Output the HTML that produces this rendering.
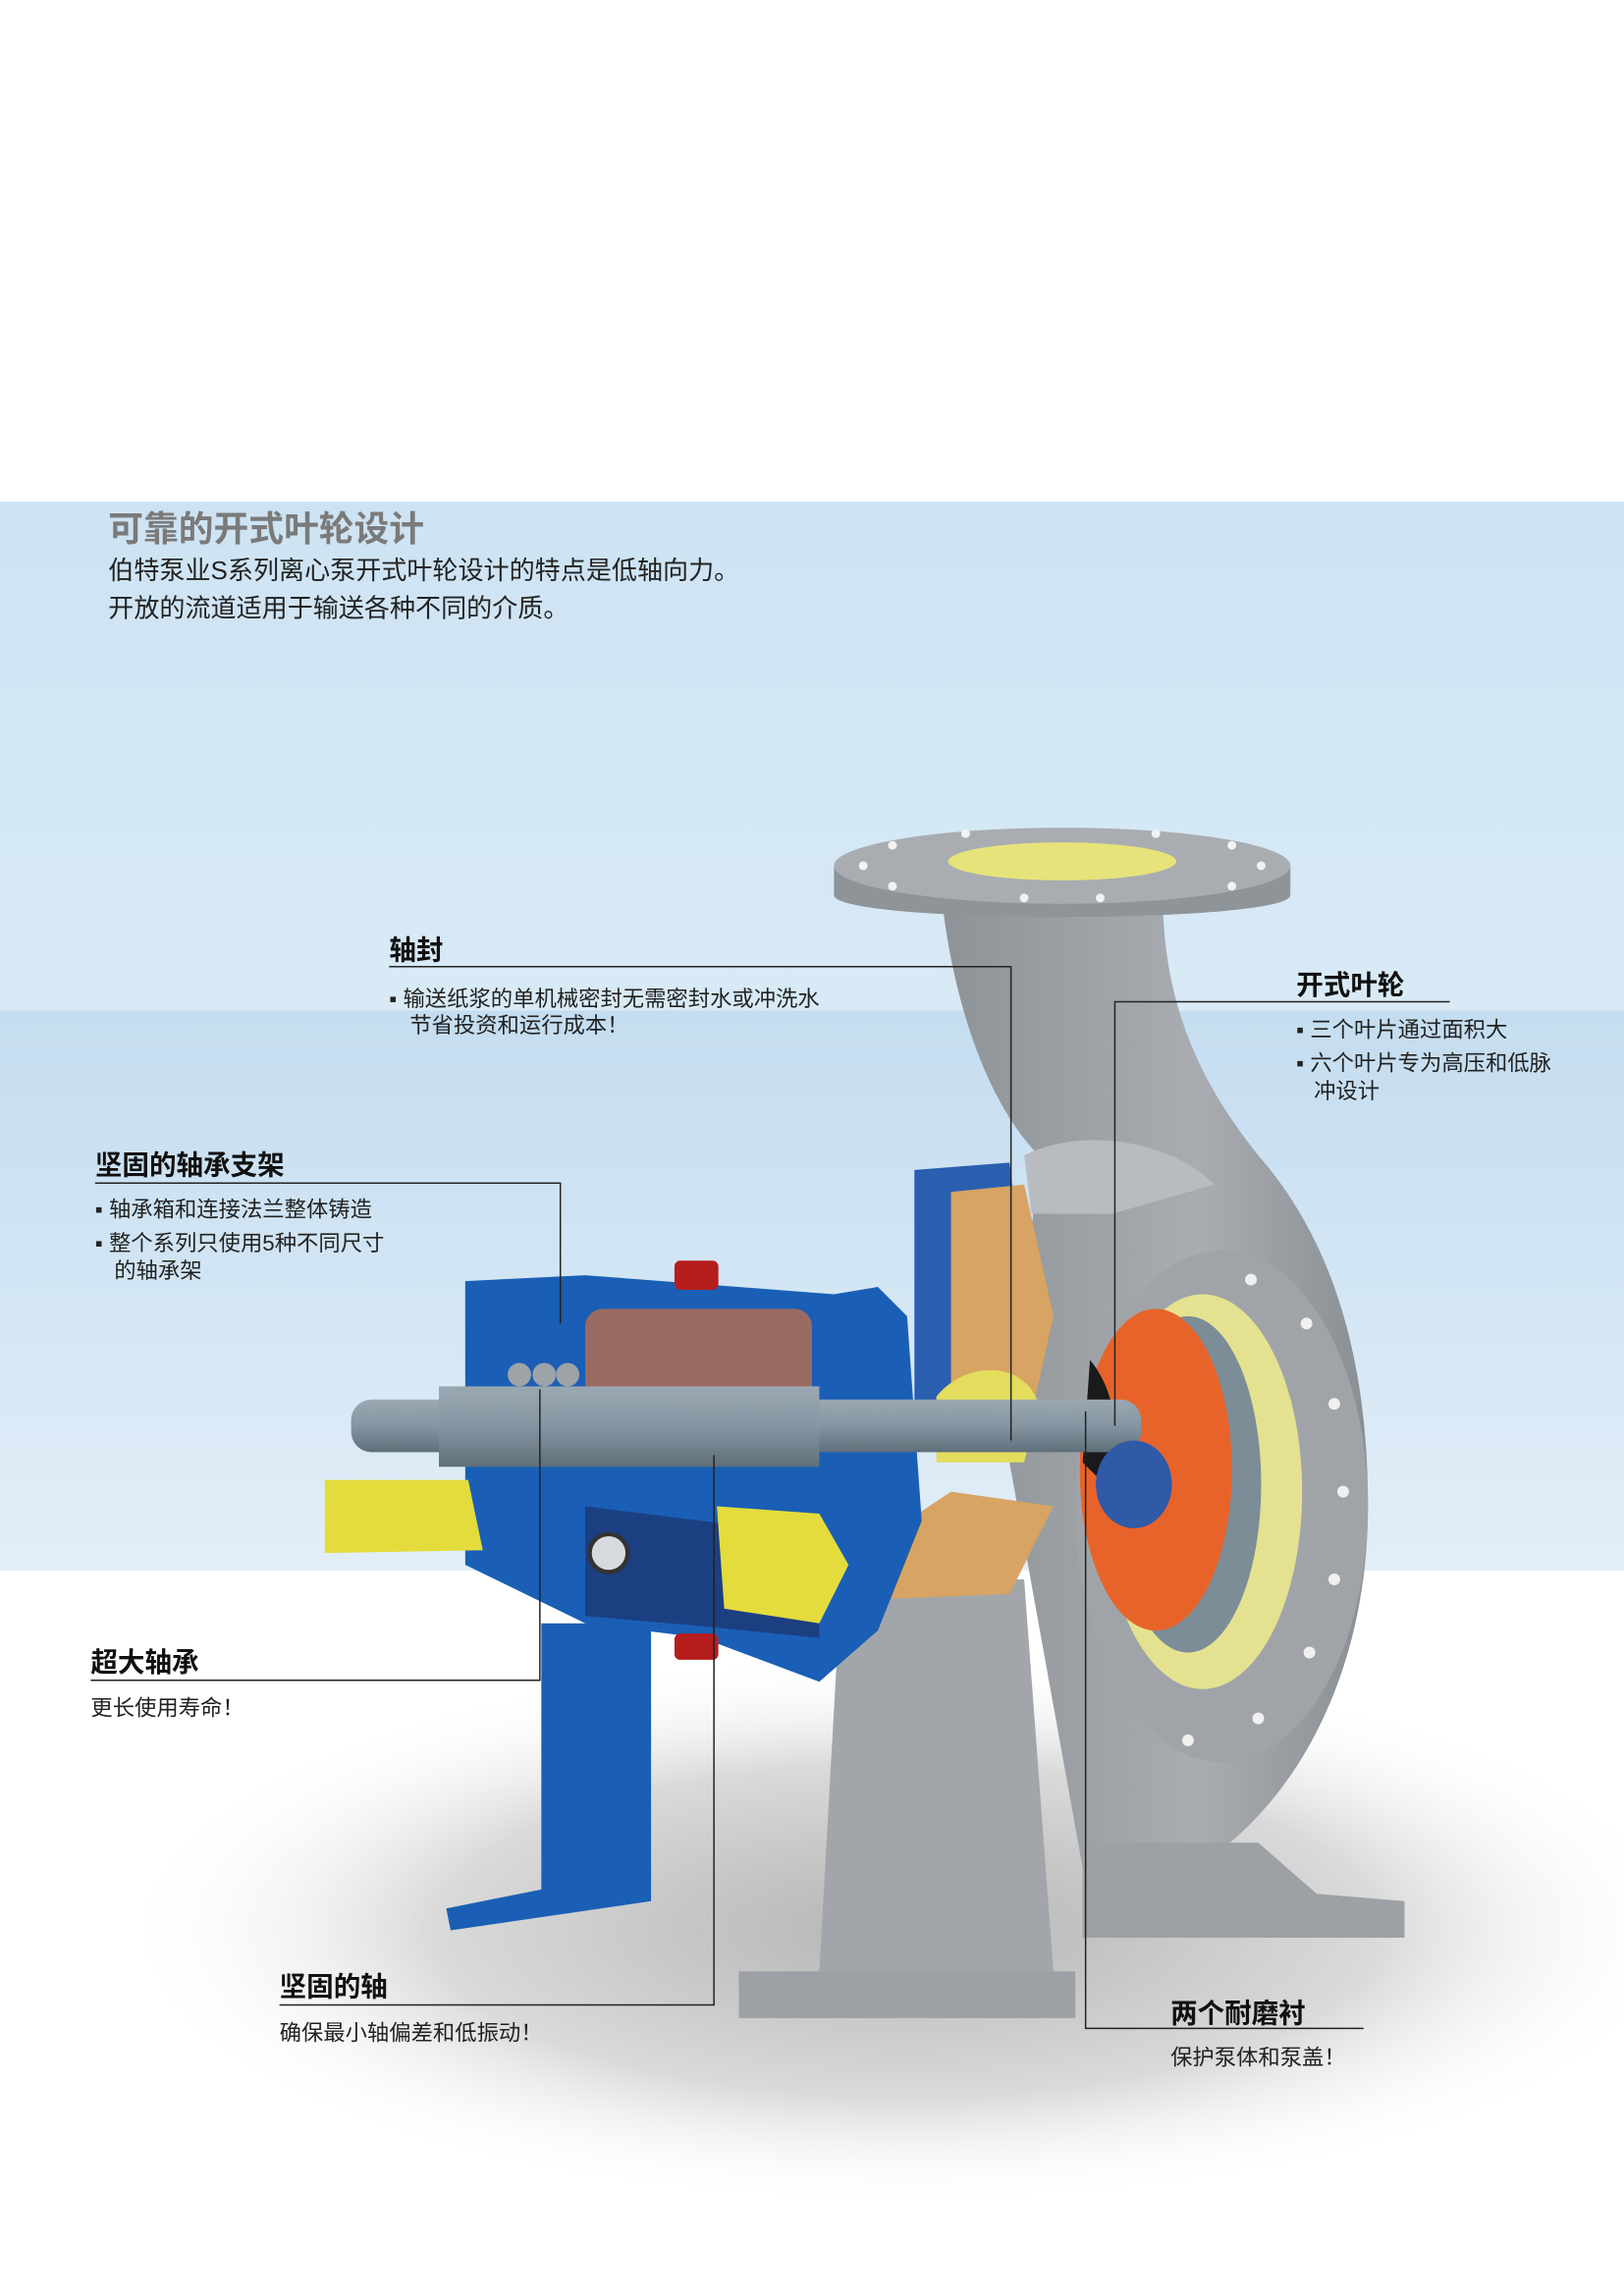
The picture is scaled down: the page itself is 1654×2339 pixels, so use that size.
<!DOCTYPE html>
<html><head><meta charset="utf-8"><style>
html,body{margin:0;padding:0;background:#fff}
svg{display:block}
text{font-family:"Liberation Sans","Noto Sans CJK SC",sans-serif}
.h{font-weight:bold;font-size:18.5px;fill:#111}
.t{font-size:15px;fill:#222}
</style></head><body>
<svg width="1654" height="2339" viewBox="0 0 1110 1570" preserveAspectRatio="none" xmlns="http://www.w3.org/2000/svg">
<defs>
<linearGradient id="bg1" x1="0" y1="0" x2="0" y2="1"><stop offset="0" stop-color="#cde3f3"/><stop offset="1" stop-color="#d9eaf6"/></linearGradient>
<linearGradient id="bg2" x1="0" y1="0" x2="0" y2="1"><stop offset="0" stop-color="#c4ddf0"/><stop offset="1" stop-color="#e2eef8"/></linearGradient>
<radialGradient id="sh" cx="0.5" cy="0.5" r="0.5"><stop offset="0" stop-color="#b4b4b4"/><stop offset="0.6" stop-color="#dadada"/><stop offset="1" stop-color="#ffffff" stop-opacity="0"/></radialGradient>
<linearGradient id="sf" x1="0" y1="0" x2="0" y2="1"><stop offset="0" stop-color="#9aa8b2"/><stop offset="0.5" stop-color="#8596a2"/><stop offset="1" stop-color="#5f6f7a"/></linearGradient>
<linearGradient id="vg" x1="0" y1="0" x2="1" y2="0"><stop offset="0" stop-color="#8e9397"/><stop offset="0.6" stop-color="#a9adb1"/><stop offset="1" stop-color="#8a8f93"/></linearGradient>
</defs>
<rect x="0" y="343" width="1110" height="348" fill="url(#bg1)"/>
<rect x="0" y="691" width="1110" height="383" fill="url(#bg2)"/>
<ellipse cx="620" cy="1320" rx="540" ry="190" fill="url(#sh)"/>

<!-- pump casing volute -->
<path d="M645,625 C655,700 680,760 710,790 L690,1000 L745,1305 C860,1285 935,1170 935,1030 C935,900 895,830 860,790 C820,740 798,690 795,625 Z" fill="url(#vg)"/>
<path d="M700,790 C740,770 800,780 830,810 L760,830 L705,830Z" fill="#b8bcc0"/>
<!-- top flange -->
<path d="M570,592 L570,612 C570,632 882,632 882,612 L882,592 Z" fill="#8f9498"/>
<ellipse cx="726" cy="592" rx="156" ry="26" fill="#a9adb1"/>
<ellipse cx="726" cy="589" rx="78" ry="13" fill="#e6e37a"/>
<g fill="#f2f2f2"><circle cx="590" cy="592" r="3"/><circle cx="862" cy="592" r="3"/><circle cx="610" cy="578" r="3"/><circle cx="842" cy="578" r="3"/><circle cx="610" cy="606" r="3"/><circle cx="842" cy="606" r="3"/><circle cx="660" cy="570" r="3"/><circle cx="790" cy="570" r="3"/><circle cx="700" cy="614" r="3"/><circle cx="752" cy="614" r="3"/></g>
<!-- pedestals -->
<path d="M575,1080 L700,1080 L720,1348 L560,1348 Z" fill="#a2a6aa"/>
<rect x="505" y="1348" width="230" height="32" fill="#9da1a5"/>
<path d="M740,1260 L860,1260 L900,1295 L960,1300 L960,1325 L740,1325Z" fill="#9da1a5"/>
<!-- volute front flange -->
<ellipse cx="835" cy="1030" rx="100" ry="175" fill="#a0a4a8"/>
<ellipse cx="822" cy="1020" rx="68" ry="135" fill="#e4e290"/>
<ellipse cx="812" cy="1015" rx="50" ry="115" fill="#7c8d97"/>
<ellipse cx="790" cy="1005" rx="52" ry="110" fill="#e8632a"/>
<path d="M745,930 C770,960 760,1000 770,1030 L740,1000Z" fill="#1a1a1a"/>
<g fill="#f0f0f0"><circle cx="855" cy="875" r="4"/><circle cx="893" cy="905" r="4"/><circle cx="912" cy="960" r="4"/><circle cx="918" cy="1020" r="4"/><circle cx="912" cy="1080" r="4"/><circle cx="895" cy="1130" r="4"/><circle cx="860" cy="1175" r="4"/><circle cx="812" cy="1190" r="4"/></g>
<!-- cover -->
<path d="M625,800 L690,795 L700,880 L660,980 L625,980 Z" fill="#2a5fb0"/>
<path d="M650,815 L700,810 L720,900 L700,990 L650,985Z" fill="#d7a463"/>
<path d="M650,1020 L720,1030 L690,1090 L560,1095 L575,1070Z" fill="#d7a463"/>
<path d="M640,955 C660,930 700,930 710,960 L700,1000 L640,1000Z" fill="#e4dc5c"/>
<!-- bearing frame -->
<path d="M318,876 L400,872 L570,885 L600,880 L620,900 L630,1040 L600,1115 L560,1150 L480,1120 L400,1110 L318,1070 Z" fill="#1a5fb5"/>
<path d="M400,1030 L560,1050 L560,1120 L480,1112 L400,1105Z" fill="#1c3f82"/>
<rect x="400" y="895" width="155" height="95" rx="12" fill="#9a6b61"/>
<path d="M370,1110 L445,1110 L445,1300 L308,1320 L305,1305 L370,1292 Z" fill="#1a5fb5"/>
<path d="M222,1012 L320,1012 L330,1060 L222,1062 Z" fill="#e3dc3c"/>
<path d="M490,1030 L560,1035 L580,1070 L560,1110 L495,1100Z" fill="#e3dc3c"/>
<circle cx="416" cy="1062" r="13" fill="#d7dadc" stroke="#333" stroke-width="3"/>
<!-- shaft -->
<rect x="240" y="957" width="540" height="36" rx="14" fill="url(#sf)"/>
<rect x="300" y="948" width="260" height="55" fill="url(#sf)"/>
<ellipse cx="775" cy="1015" rx="26" ry="30" fill="#2e5aa8"/>
<g fill="#9ea3a7"><circle cx="355" cy="940" r="8"/><circle cx="372" cy="940" r="8"/><circle cx="388" cy="940" r="8"/></g>
<!-- caps -->
<rect x="461" y="862" width="30" height="20" rx="4" fill="#b61d1d"/>
<rect x="461" y="1117" width="30" height="18" rx="4" fill="#b61d1d"/>

<!-- header text -->
<text x="74" y="370" style="font-size:24px;font-weight:bold;fill:#7a7a7a">可靠的开式叶轮设计</text>
<text x="74" y="396" style="font-size:17.5px;fill:#222">伯特泵业S系列离心泵开式叶轮设计的特点是低轴向力。</text>
<text x="74" y="422" style="font-size:17.5px;fill:#222">开放的流道适用于输送各种不同的介质。</text>

<!-- leader lines -->
<g stroke="#222" stroke-width="1" fill="none">
<polyline points="266,661 691,661 691,985"/>
<polyline points="762,975 762,685 991,685"/>
<polyline points="65,809 383,809 383,905"/>
<polyline points="62,1149 369,1149 369,950"/>
<polyline points="191,1371 488,1371 488,995"/>
<polyline points="742,965 742,1387 932,1387"/>
</g>

<text x="266" y="656" class="h">轴封</text>
<text x="266" y="688" class="t">▪ 输送纸浆的单机械密封无需密封水或冲洗水</text>
<text x="280" y="706" class="t">节省投资和运行成本！</text>

<text x="886" y="680" class="h">开式叶轮</text>
<text x="886" y="709" class="t">▪ 三个叶片通过面积大</text>
<text x="886" y="732" class="t">▪ 六个叶片专为高压和低脉</text>
<text x="898" y="751" class="t">冲设计</text>

<text x="65" y="803" class="h">坚固的轴承支架</text>
<text x="65" y="832" class="t">▪ 轴承箱和连接法兰整体铸造</text>
<text x="65" y="855" class="t">▪ 整个系列只使用5种不同尺寸</text>
<text x="78" y="874" class="t">的轴承架</text>

<text x="62" y="1143" class="h">超大轴承</text>
<text x="62" y="1173" class="t">更长使用寿命！</text>

<text x="191" y="1365" class="h">坚固的轴</text>
<text x="191" y="1395" class="t">确保最小轴偏差和低振动！</text>

<text x="800" y="1383" class="h">两个耐磨衬</text>
<text x="800" y="1412" class="t">保护泵体和泵盖！</text>
</svg>
</body></html>
